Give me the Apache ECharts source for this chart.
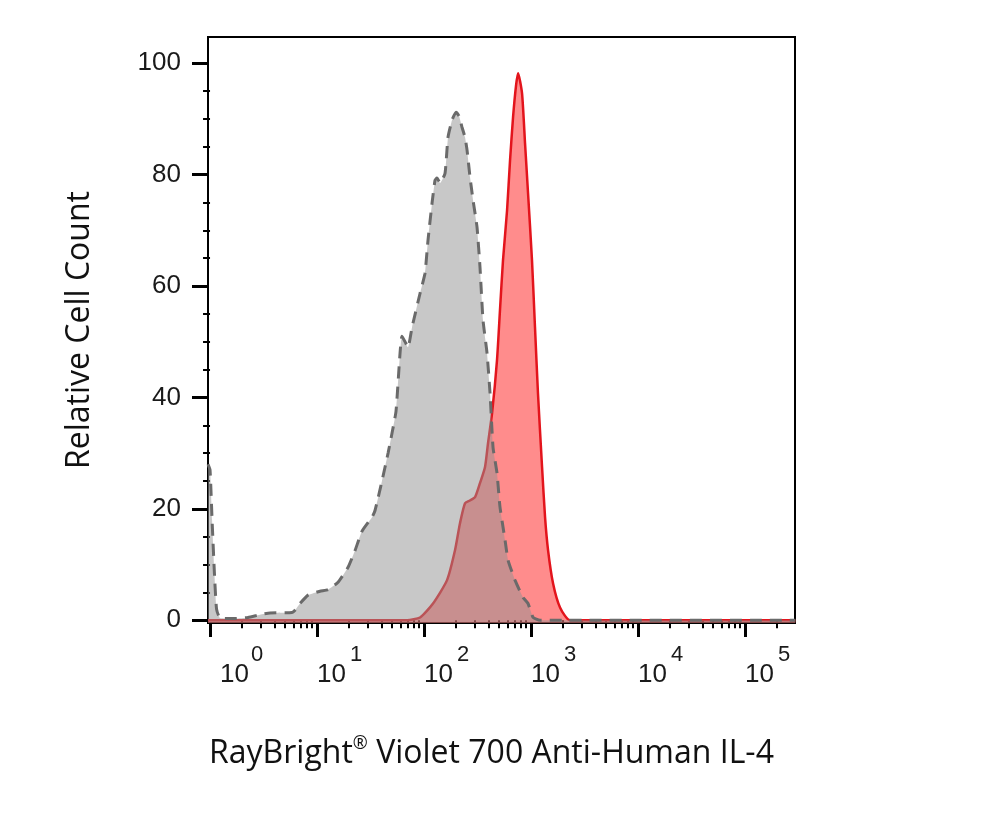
<!DOCTYPE html>
<html>
<head>
<meta charset="utf-8">
<script src="https://cdn.jsdelivr.net/npm/echarts@6/dist/echarts.min.js"></script>
<style>
html,body{margin:0;padding:0;background:#fff;}
#chart{width:1000px;height:832px;}
</style>
</head>
<body>
<div id="chart"></div>
<script>
// x values are log10 of fluorescence intensity
const GRAY_X = [-0.019,0.000,0.019,0.042,0.061,0.093,0.234,0.355,0.467,0.561,0.766,0.794,0.841,0.916,1.028,1.103,1.196,1.290,1.355,1.421,1.514,1.542,1.607,1.664,1.701,1.738,1.776,1.794,1.850,1.888,1.963,2.009,2.037,2.075,2.103,2.121,2.150,2.196,2.224,2.262,2.299,2.327,2.355,2.383,2.402,2.430,2.458,2.495,2.523,2.551,2.589,2.617,2.645,2.682,2.710,2.757,2.785,2.850,2.925,2.972,3.019,3.084,5.470];
const GRAY_Y = [28,27,18,8,2,0.4,0.3,0.5,1.0,1.3,1.4,1.8,3.0,4.5,5.2,5.5,6.8,9.5,12.5,16,18.5,19.7,25,30,33.6,37.5,48,51,49,52.6,58.7,62.3,68.2,74.9,79,79.4,78.5,80.2,86.7,89.8,91.2,90.5,88.5,86.7,84.4,79.5,75.4,70.6,63.4,53.9,47.9,40.7,31,26.4,20.3,14.4,10.8,7.2,4.1,3.0,0.5,0,0];
const RED_X = [-0.019,1.841,1.963,2.084,2.215,2.290,2.336,2.383,2.430,2.477,2.523,2.570,2.598,2.636,2.682,2.710,2.738,2.776,2.804,2.832,2.860,2.879,2.916,2.944,2.972,3.009,3.037,3.065,3.103,3.131,3.159,3.206,3.271,3.364,5.470];
const RED_Y = [0,0,0.5,3,7.2,12.6,17.4,21,21.5,22.1,24.6,27.5,31.8,37.2,46.7,55.7,64.6,73.6,82.6,90.3,96,98.2,94.6,85.6,76.7,64.6,52.6,40.7,27.5,18.5,12.6,6.6,2.3,0,0];

const X_MAJOR = [0,1,2,3,4,5];
const X_MINOR = [];
X_MAJOR.forEach(n => { for (let k = 2; k <= 9; k++) { const v = n + Math.log10(k); if (v <= 5.467) X_MINOR.push(v); } });
const Y_MAJOR = [0,20,40,60,80,100];
const Y_MINOR = [5,10,15,25,30,35,45,50,55,65,70,75,85,90,95];

const X_MIN = -0.019, X_MAX = 5.467;
const Y_MIN = -0.5, Y_MAX = 104.7;

const chart = echarts.init(document.getElementById('chart'), null, {renderer:'canvas'});
const tickFont = 'Liberation Sans, Arial, sans-serif';
chart.setOption({
  animation: false,
  backgroundColor: '#fff',
  grid: {left:208, right:205, top:37, bottom:209, show:true, borderColor:'#000', borderWidth:2, backgroundColor:'transparent'},
  xAxis: [
    {
      type:'value', min:X_MIN, max:X_MAX, position:'bottom',
      axisLine:{show:true, onZero:false, lineStyle:{color:'#000', width:2}},
      splitLine:{show:false},
      axisTick:{show:true, customValues:X_MAJOR, length:14, lineStyle:{color:'#000', width:3}},
      axisLabel:{
        customValues:X_MAJOR, margin:23, align:'left', color:'#1a1a1a',
        formatter: v => v === 0 ? '{sp0| }{e|0}\n{p0| }{b|10}' : '{sp|}{e|' + v + '}\n{b|10}',
        rich:{
          b:{fontSize:26, fontFamily:tickFont, lineHeight:22, color:'#1a1a1a'},
          e:{fontSize:22, fontFamily:tickFont, lineHeight:18, color:'#1a1a1a'},
          sp:{width:33, fontSize:22, lineHeight:18},
          sp0:{width:41, fontSize:22, lineHeight:18},
          p0:{width:10, fontSize:26, lineHeight:22}
        }
      },
      name:'RayBright{r|®} Violet 700 Anti-Human IL-4',
      nameLocation:'middle', nameGap:112,
      nameTextStyle:{fontFamily:'Open Sans', fontSize:32, color:'#111', padding:[0,20,0,0],
        rich:{r:{fontFamily:'Open Sans', fontSize:18, color:'#111', verticalAlign:'top', lineHeight:38}}}
    },
    {
      type:'value', min:X_MIN, max:X_MAX, position:'bottom',
      axisLine:{show:false}, splitLine:{show:false},
      axisTick:{show:true, customValues:X_MINOR, length:8, lineStyle:{color:'#000', width:2}},
      axisLabel:{show:false}
    }
  ],
  yAxis: [
    {
      type:'value', min:Y_MIN, max:Y_MAX, position:'left',
      axisLine:{show:true, onZero:false, lineStyle:{color:'#000', width:2}},
      splitLine:{show:false},
      axisTick:{show:true, customValues:Y_MAJOR, length:16, lineStyle:{color:'#000', width:3}},
      axisLabel:{customValues:Y_MAJOR, margin:27, fontSize:26, fontFamily:tickFont, color:'#1a1a1a'},
      name:'Relative Cell Count', nameLocation:'middle', nameGap:112,
      nameTextStyle:{fontFamily:'Open Sans', fontSize:32, color:'#111'}
    },
    {
      type:'value', min:Y_MIN, max:Y_MAX, position:'left',
      axisLine:{show:false}, splitLine:{show:false},
      axisTick:{show:true, customValues:Y_MINOR, length:7, lineStyle:{color:'#000', width:2}},
      axisLabel:{show:false}
    }
  ],
  series: [
    {
      type:'line', xAxisIndex:0, yAxisIndex:0, z:2,
      data: RED_X.map((x,i) => [x, RED_Y[i]]),
      showSymbol:false, smooth:0.2,
      lineStyle:{color:'#e3141c', width:2.5},
      areaStyle:{color:'rgba(255,0,0,0.45)', opacity:1, origin:'start'}
    },
    {
      type:'line', xAxisIndex:0, yAxisIndex:0, z:3,
      data: GRAY_X.map((x,i) => [x, GRAY_Y[i]]),
      showSymbol:false, smooth:0.15,
      lineStyle:{color:'#6a6a6a', width:3, type:[12,8]},
      areaStyle:{color:'rgba(145,145,145,0.5)', opacity:1, origin:'start'}
    }
  ]
});
</script>
</body>
</html>
